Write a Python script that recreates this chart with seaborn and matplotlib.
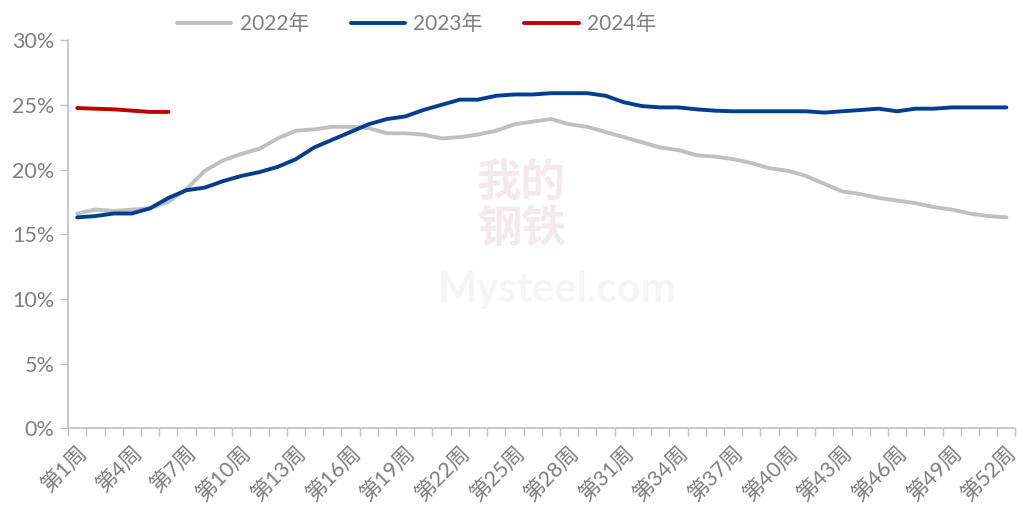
import numpy as np
import pandas as pd
import seaborn as sns
import matplotlib.pyplot as plt
from matplotlib.ticker import PercentFormatter, FixedLocator

# weekly values (%)
weeks = list(range(1, 53))
y2022 = [16.6, 16.9, 16.8, 16.9, 17.0, 17.5, 18.5, 19.9, 20.7, 21.2,
         21.6, 22.4, 23.0, 23.1, 23.3, 23.3, 23.2, 22.8, 22.8, 22.7,
         22.4, 22.5, 22.7, 23.0, 23.5, 23.7, 23.9, 23.5, 23.3, 22.9,
         22.5, 22.1, 21.7, 21.5, 21.1, 21.0, 20.8, 20.5, 20.1, 19.9,
         19.5, 18.9, 18.3, 18.1, 17.8, 17.6, 17.4, 17.1, 16.9, 16.6,
         16.4, 16.3]
y2023 = [16.3, 16.4, 16.6, 16.6, 17.0, 17.8, 18.4, 18.6, 19.1, 19.5,
         19.8, 20.2, 20.8, 21.7, 22.3, 22.9, 23.5, 23.9, 24.1, 24.6,
         25.0, 25.4, 25.4, 25.7, 25.8, 25.8, 25.9, 25.9, 25.9, 25.7,
         25.2, 24.9, 24.8, 24.8, 24.65, 24.55, 24.5, 24.5, 24.5, 24.5,
         24.5, 24.4, 24.5, 24.6, 24.7, 24.5, 24.7, 24.7, 24.8, 24.8,
         24.8, 24.8]
y2024 = [24.75, 24.7, 24.65, 24.55, 24.45, 24.45]
years = ['2022年', '2023年', '2024年']
colors = ['#c0c0c0', '#003f8f', '#c00000']
label_weeks = list(range(1, 53, 3))
tick_labels = ['第%d周' % w for w in label_weeks]

df = pd.concat([
    pd.DataFrame({'week': weeks, 'value': y2022, 'year': years[0]}),
    pd.DataFrame({'week': weeks, 'value': y2023, 'year': years[1]}),
    pd.DataFrame({'week': weeks[:len(y2024)], 'value': y2024, 'year': years[2]}),
])

sns.set_style('white')
plt.rcParams['font.family'] = ['Lato', 'Noto Sans CJK SC', 'DejaVu Sans']

fig = plt.figure(figsize=(10.32, 5.08), dpi=100)
ax = fig.add_axes([0.066, 0.157, 0.918, 0.764])

# faint watermark
fig.text(0.505, 0.595, '我的\n钢铁', ha='center', va='center', fontsize=32,
         color='#f5eaea', family=['Noto Sans CJK SC'], linespacing=1.0,
         fontweight='bold', zorder=0)
fig.text(0.54, 0.43, 'Mysteel.com', ha='center', va='center', fontsize=30,
         color='#f5f5f5', fontweight='bold', zorder=0)

sns.lineplot(data=df, x='week', y='value', hue='year', palette=colors,
             hue_order=years, linewidth=2.8, ax=ax, legend=True)

ax.set_xlim(0.5, 52.5)
ax.set_ylim(0, 30)
ax.set_yticks([0, 5, 10, 15, 20, 25, 30])
ax.yaxis.set_major_formatter(PercentFormatter(decimals=0))
ax.set_xticks(label_weeks)
ax.set_xticklabels(tick_labels, rotation=45, ha='right', rotation_mode='anchor')
ax.xaxis.set_minor_locator(FixedLocator(np.arange(0.5, 53, 1)))
ax.tick_params(axis='x', which='major', length=0, pad=10, labelsize=15.5,
               labelcolor='#7f7f7f')
ax.tick_params(axis='x', which='minor', length=6, width=1, color='#bfbfbf',
               direction='out', bottom=True)
ax.tick_params(axis='y', length=6, width=1, color='#bfbfbf', direction='out',
               left=True, labelsize=15.5, labelcolor='#7f7f7f', pad=4)
ax.set_xlabel('')
ax.set_ylabel('')
for side in ['top', 'right']:
    ax.spines[side].set_visible(False)
for side in ['left', 'bottom']:
    ax.spines[side].set_color('#bfbfbf')
    ax.spines[side].set_linewidth(1.2)

ax.legend(loc='upper center', bbox_to_anchor=(0.368, 1.115), ncol=3,
          frameon=False, fontsize=15, handlelength=2.6, columnspacing=2.0,
          handletextpad=0.4, labelcolor='#7f7f7f')

fig.savefig('out.png', dpi=100)
